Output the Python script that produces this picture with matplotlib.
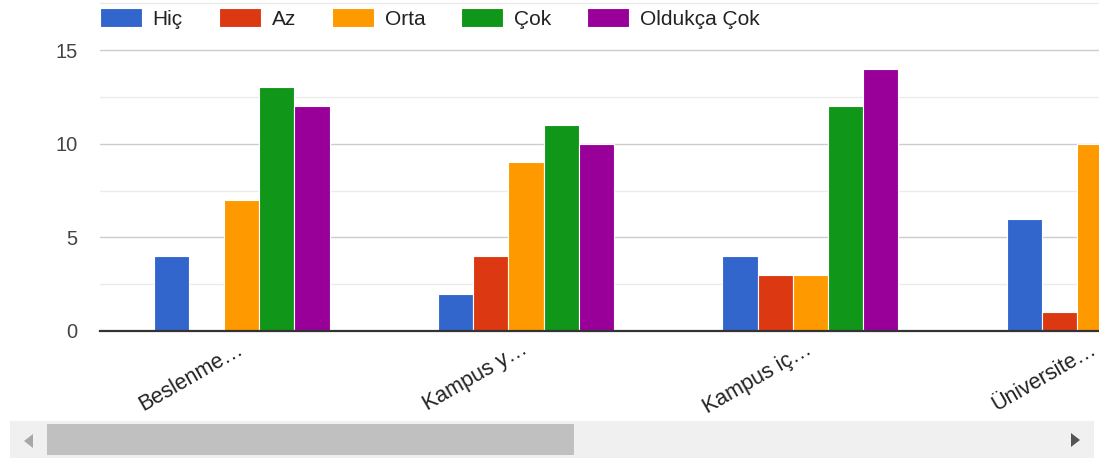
import numpy as np
import matplotlib
matplotlib.use("Agg")
import matplotlib.pyplot as plt
from matplotlib.patches import Rectangle, Polygon

plt.rcParams['font.family'] = ['Liberation Sans', 'DejaVu Sans']

categories = ["Beslenme…", "Kampus y…", "Kampus iç…", "Üniversite…"]
series = ["Hiç", "Az", "Orta", "Çok", "Oldukça Çok"]
colors = ["#3366cc", "#dc3912", "#ff9900", "#109618", "#990099"]

hic = [4, 2, 4, 6]
az = [0, 4, 3, 1]
orta = [7, 9, 3, 10]
cok = [13, 11, 12, np.nan]        # last group scrolled out of view
oldukca_cok = [12, 10, 14, np.nan]
values = [hic, az, orta, cok, oldukca_cok]

W, H = 1099, 459
fig = plt.figure(figsize=(W / 100, H / 100), dpi=100)

# plot area in pixels: left edge 100, baseline at y=331, 18.73 px per unit
px_per_unit = 281 / 15
ax = fig.add_axes([100 / W, (H - 331) / H, 1 - 100 / W, 331 / H])

x = np.arange(len(categories))
bw = 0.1238
for i, (name, vals, c) in enumerate(zip(series, values, colors)):
    ax.bar(x + (i - 2) * bw, vals, width=bw, color=c, edgecolor="white",
           linewidth=0.8, label=name, zorder=2)

ax.set_xlim(-0.498, 3.015)
ax.set_ylim(0, 331 / px_per_unit)

ax.set_yticks([0, 5, 10, 15])
ax.set_yticks([2.5, 7.5, 12.5, 17.5], minor=True)
ax.grid(axis="y", which="major", color="#cccccc", linewidth=1.0, zorder=0)
ax.grid(axis="y", which="minor", color="#ebebeb", linewidth=1.0, zorder=0)
ax.axhline(0, color="#333333", linewidth=1.6, zorder=3, clip_on=False)

for s in ax.spines.values():
    s.set_visible(False)

ax.tick_params(axis="y", which="both", length=0, pad=16, labelsize=14.5,
               labelcolor="#444444")
ax.set_xticks(x)
ax.set_xticklabels(categories, rotation=30, ha="right", va="center",
                   rotation_mode="anchor", fontsize=15.5, color="#222222")
ax.tick_params(axis="x", length=0, pad=12)

fig.legend(loc="upper left", bbox_to_anchor=(100 / W, 1 - 8 / H), ncol=5,
           frameon=False, fontsize=15, handlelength=2.0, handleheight=1.05,
           handletextpad=0.53, columnspacing=1.73, borderpad=0,
           borderaxespad=0, labelcolor="#222222")

# horizontal scrollbar under the chart
sb = fig.add_axes([0, 0, 1, 1], zorder=5)
sb.set_xlim(0, W)
sb.set_ylim(H, 0)
sb.axis("off")
sb.patch.set_alpha(0)
sb.add_patch(Rectangle((10, 421), 1084, 37, color="#f0f0f0", lw=0))
sb.add_patch(Rectangle((47, 424), 527, 31, color="#c0c0c0", lw=0))
sb.add_patch(Polygon([(24, 441), (33, 434), (33, 448)], color="#a8a8a8", lw=0))
sb.add_patch(Polygon([(1071, 433), (1080, 440), (1071, 447)], color="#555555", lw=0))

fig.savefig("out.png", dpi=100)
